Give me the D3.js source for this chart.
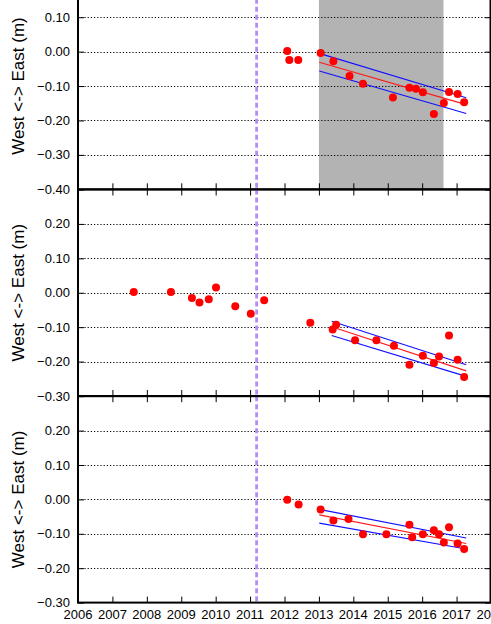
<!DOCTYPE html>
<html>
<head>
<meta charset="utf-8">
<script src="https://cdn.jsdelivr.net/npm/d3@7"></script>
<style>
  html, body { margin: 0; padding: 0; background: #fff; overflow: hidden; }
  svg { display: block; }
  text { font-family: "Liberation Sans", Arial, sans-serif; fill: #000; }
</style>
</head>
<body>
<svg id="chart" width="491" height="624"></svg>
<script>
// ---------------- DATA ----------------
const yearTicks = [2006, 2007, 2008, 2009, 2010, 2011, 2012, 2013, 2014, 2015, 2016, 2017, 2018];
const quakeYear = 2011.19;
const yLabel = "West <-> East (m)";

// Panel 1
const p1Dates  = [2012.08, 2012.14, 2012.40, 2013.05, 2013.42, 2013.89, 2014.28, 2015.15, 2015.63, 2015.82, 2016.02, 2016.34, 2016.63, 2016.78, 2017.03, 2017.22];
const p1Values = [0.002, -0.024, -0.024, -0.004, -0.028, -0.071, -0.093, -0.133, -0.105, -0.108, -0.118, -0.181, -0.149, -0.117, -0.123, -0.147];
const p1TrendX = [2013.01, 2017.28];
const p1Trend  = [-0.031, -0.154];
const p1Upper  = [-0.005, -0.134];
const p1Lower  = [-0.056, -0.180];
const p1Shade  = [2013.0, 2016.62];
const p1Ticks  = [0.20, 0.10, 0.00, -0.10, -0.20, -0.30, -0.40];

// Panel 2
const p2Dates  = [2007.62, 2008.70, 2009.31, 2009.53, 2009.80, 2010.01, 2010.57, 2011.02, 2011.41, 2012.75, 2013.40, 2013.50, 2014.05, 2014.67, 2015.18, 2015.63, 2016.02, 2016.34, 2016.49, 2016.78, 2017.03, 2017.22];
const p2Values = [0.002, 0.002, -0.015, -0.028, -0.019, 0.015, -0.039, -0.061, -0.022, -0.087, -0.107, -0.093, -0.138, -0.138, -0.154, -0.209, -0.183, -0.204, -0.185, -0.124, -0.195, -0.245];
const p2TrendX = [2013.37, 2017.28];
const p2Trend  = [-0.099, -0.227];
const p2Upper  = [-0.083, -0.209];
const p2Lower  = [-0.124, -0.243];
const p2Ticks  = [0.30, 0.20, 0.10, 0.00, -0.10, -0.20, -0.30];

// Panel 3
const p3Dates  = [2012.08, 2012.41, 2013.05, 2013.42, 2013.86, 2014.28, 2014.96, 2015.63, 2015.71, 2016.02, 2016.34, 2016.49, 2016.63, 2016.78, 2017.03, 2017.22];
const p3Values = [-0.001, -0.015, -0.029, -0.061, -0.057, -0.101, -0.101, -0.074, -0.110, -0.101, -0.090, -0.101, -0.125, -0.081, -0.128, -0.144];
const p3TrendX = [2013.01, 2017.28];
const p3Trend  = [-0.045, -0.128];
const p3Upper  = [-0.029, -0.112];
const p3Lower  = [-0.069, -0.144];
const p3Ticks  = [0.30, 0.20, 0.10, 0.00, -0.10, -0.20, -0.30];

// ---------------- LAYOUT ----------------
const svg = d3.select("#chart");
const left = 78, right = 491;
const x = d3.scaleLinear().domain([2006, 2018]).range([left, right]);

const panels = [
  { top: -17.2, bottom: 189.3, domain: [-0.4, 0.2], ticks: p1Ticks, dates: p1Dates, values: p1Values,
    tx: p1TrendX, trend: p1Trend, upper: p1Upper, lower: p1Lower, shade: p1Shade, xLabels: false },
  { top: 189.5, bottom: 396.0, domain: [-0.3, 0.3], ticks: p2Ticks, dates: p2Dates, values: p2Values,
    tx: p2TrendX, trend: p2Trend, upper: p2Upper, lower: p2Lower, shade: null, xLabels: false },
  { top: 396.2, bottom: 602.6, domain: [-0.3, 0.3], ticks: p3Ticks, dates: p3Dates, values: p3Values,
    tx: p3TrendX, trend: p3Trend, upper: p3Upper, lower: p3Lower, shade: null, xLabels: true }
];

const fmt = d3.format(".2f");

panels.forEach((p, i) => {
  const y = d3.scaleLinear().domain(p.domain).range([p.bottom, p.top]);
  const g = svg.append("g");
  const clipId = "clip" + i;
  svg.append("clipPath").attr("id", clipId)
    .append("rect").attr("x", left).attr("y", p.top).attr("width", right - left).attr("height", p.bottom - p.top);
  const inner = g.append("g").attr("clip-path", `url(#${clipId})`);

  // shaded period
  if (p.shade) {
    inner.append("rect")
      .attr("x", x(p.shade[0])).attr("y", p.top)
      .attr("width", x(p.shade[1]) - x(p.shade[0]))
      .attr("height", p.bottom - p.top)
      .attr("fill", "#b3b3b3");
  }

  // dotted grid lines
  const innerTicks = p.ticks.filter(t => Math.abs(t - p.domain[0]) > 1e-9 && Math.abs(t - p.domain[1]) > 1e-9);
  inner.selectAll("line.grid").data(innerTicks).join("line")
    .attr("class", "grid")
    .attr("x1", left).attr("x2", right)
    .attr("y1", d => Math.round(y(d)) + 0.5).attr("y2", d => Math.round(y(d)) + 0.5)
    .attr("stroke", "#000").attr("stroke-width", 1.2).attr("stroke-dasharray", "1.2,2");

  // earthquake line
  inner.append("line")
    .attr("x1", x(quakeYear)).attr("x2", x(quakeYear))
    .attr("y1", p.top).attr("y2", p.bottom)
    .attr("stroke", "#b78af7").attr("stroke-width", 2.8).attr("stroke-dasharray", "5,3");

  // trend lines
  const line = d3.line().x(d => x(d[0])).y(d => y(d[1]));
  [[p.upper, "#1010ff"], [p.lower, "#1010ff"], [p.trend, "#ff1a1a"]].forEach(([vals, col]) => {
    inner.append("path")
      .attr("d", line(p.tx.map((t, k) => [t, vals[k]])))
      .attr("fill", "none").attr("stroke", col).attr("stroke-width", 1.1);
  });

  // data points
  inner.selectAll("circle").data(p.dates.map((d, k) => [d, p.values[k]])).join("circle")
    .attr("cx", d => x(d[0])).attr("cy", d => y(d[1])).attr("r", 4)
    .attr("fill", "#ff0000");

  // y axis (left, inward ticks)
  const yAxisL = d3.axisRight(y).tickValues(p.ticks).tickSize(6).tickFormat("");
  g.append("g").attr("transform", `translate(${left},0)`).call(yAxisL)
    .call(a => a.select(".domain").remove())
    .call(a => a.selectAll("line").attr("stroke", "#000").attr("stroke-width", 1));
  const yAxisR = d3.axisLeft(y).tickValues(p.ticks).tickSize(6).tickFormat("");
  g.append("g").attr("transform", `translate(${right},0)`).call(yAxisR)
    .call(a => a.select(".domain").remove())
    .call(a => a.selectAll("line").attr("stroke", "#000").attr("stroke-width", 1));

  // y tick labels (omit topmost, shared with panel above)
  const labelTicks = p.ticks.filter(t => Math.abs(t - p.domain[1]) > 1e-9);
  g.selectAll("text.ytl").data(labelTicks).join("text")
    .attr("class", "ytl")
    .attr("x", left - 8).attr("y", d => y(d))
    .attr("dy", "0.35em").attr("text-anchor", "end")
    .attr("font-size", 13).text(d => fmt(d));

  // x axis ticks (bottom and top, inward)
  const xAxisB = d3.axisTop(x).tickValues(yearTicks).tickSize(6).tickFormat("");
  g.append("g").attr("transform", `translate(0,${p.bottom})`).call(xAxisB)
    .call(a => a.select(".domain").remove())
    .call(a => a.selectAll("line").attr("stroke", "#000").attr("stroke-width", 1));
  const xAxisT = d3.axisBottom(x).tickValues(yearTicks).tickSize(6).tickFormat("");
  g.append("g").attr("transform", `translate(0,${p.top})`).call(xAxisT)
    .call(a => a.select(".domain").remove())
    .call(a => a.selectAll("line").attr("stroke", "#000").attr("stroke-width", 1));

  if (p.xLabels) {
    g.selectAll("text.xtl").data(yearTicks).join("text")
      .attr("class", "xtl")
      .attr("x", d => x(d)).attr("y", p.bottom + 16)
      .attr("text-anchor", "middle").attr("font-size", 13)
      .text(d => d);
  }

  // frame
  g.append("rect")
    .attr("x", left).attr("y", p.top)
    .attr("width", right - left - 0.5).attr("height", p.bottom - p.top)
    .attr("fill", "none").attr("stroke", "#000").attr("stroke-width", 2);

  // y label
  const cy = (p.top + p.bottom) / 2;
  g.append("text")
    .attr("transform", `translate(24,${cy}) rotate(-90)`)
    .attr("text-anchor", "middle").attr("font-size", 17)
    .text(yLabel);
});
</script>
</body>
</html>
